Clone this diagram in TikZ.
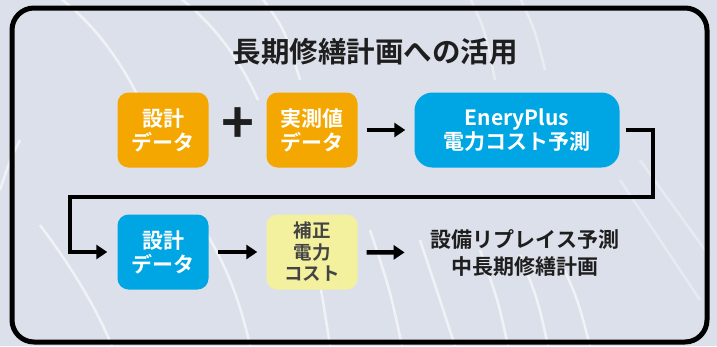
\documentclass[tikz,border=0pt]{standalone}
\usepackage{fontspec}
\setmainfont{Noto Sans CJK JP}[BoldFont={Noto Sans CJK JP Bold}]
\usetikzlibrary{arrows.meta}
\definecolor{bgc}{HTML}{DCE0EA}
\definecolor{orangebox}{HTML}{F4A700}
\definecolor{bluebox}{HTML}{00A6E3}
\definecolor{yellowbox}{HTML}{F3F09E}
\definecolor{darktext}{HTML}{1E1E1E}
\definecolor{graytext}{HTML}{444444}
\tikzset{
  streak/.style={white,opacity=0.6,line width=2.5pt},
  card/.style={rounded corners=11pt,minimum width=91pt,minimum height=75pt,inner sep=0pt,align=center,
    font=\fontsize{21}{24}\selectfont\bfseries,text=white},
  orangecard/.style={card,fill=orangebox},
  bluecard/.style={card,fill=bluebox},
  yellowcard/.style={card,fill=yellowbox,text=graytext,font=\fontsize{18.5}{21.5}\selectfont\bfseries},
  flow/.style={line width=4.5pt,-{Triangle[length=11pt,width=14pt]},shorten <=9pt,shorten >=9pt},
}
\begin{document}
\begin{tikzpicture}[x=1pt,y=-1pt]
\useasboundingbox (0,0) rectangle (717,346);
\fill[bgc] (0,0) rectangle (717,346);
% background streaks
\draw[streak] (60,-2) .. controls (95,25) and (120,60) .. (140,100);
\draw[streak] (180,-2) .. controls (215,25) and (240,60) .. (258,100);
\draw[streak] (262,-2) .. controls (285,30) .. (300,80);
\draw[streak] (20,140) .. controls (10,160) .. (0,190);
\draw[streak] (40,225) .. controls (70,265) and (95,305) .. (112,346);
\draw[streak] (195,215) .. controls (225,260) and (240,300) .. (250,346);
\draw[streak] (305,230) .. controls (320,280) .. (330,346);
\draw[streak] (370,230) .. controls (390,290) .. (402,346);
\draw[streak] (420,240) .. controls (440,300) .. (455,346);
\draw[streak] (480,250) .. controls (498,300) .. (508,346);
\draw[streak] (520,255) .. controls (538,300) .. (548,346);
\draw[streak] (560,260) .. controls (578,300) .. (590,346);
\draw[streak,opacity=0.35] (620,180) -- (700,300);
\draw[streak,opacity=0.35] (640,160) -- (705,250);
\draw[streak,opacity=0.4] (470,-2) .. controls (485,30) .. (495,80);
\draw[streak,opacity=0.4] (520,-2) .. controls (535,30) .. (545,70);
% frame
\draw[line width=5pt,rounded corners=22pt] (12,8) rectangle (707,342);
% title
\node[font=\fontsize{28.5}{32}\selectfont\bfseries,text=darktext] (title) at (375,52) {長期修繕計画への活用};
% row 1
\node[orangecard] (design1) at (163,130) {設計\\データ};
\node[font=\fontsize{56}{56}\selectfont\bfseries,text=darktext,inner sep=0pt] (plus) at (238,126) {+};
\node[orangecard] (measured) at (312,130) {実測値\\データ};
\node[bluecard,minimum width=205pt,rounded corners=18pt] (eplus) at (517,130) {EneryPlus\\電力コスト予測};
% row 2
\node[bluecard] (design2) at (163,252) {設計\\データ};
\node[yellowcard] (corrected) at (312,252) {補正\\電力\\コスト};
\node[font=\fontsize{21}{27}\selectfont\bfseries,text=darktext,align=center,inner sep=0pt] (result) at (525,253) {設備リプレイス予測\\中長期修繕計画};
% connectors
\coordinate (c1) at (653,130);
\coordinate (c2) at (653,197);
\coordinate (c3) at (70,197);
\coordinate (c4) at (70,252);
\draw[flow] (measured) -- (eplus);
\draw[line width=4.5pt,-{Triangle[length=11pt,width=14pt]},shorten <=6pt,shorten >=10pt]
  (eplus.east) -- (c1) -- (c2) -- (c3) -- (c4) -- (design2.west);
\draw[flow] (design2) -- (corrected);
\draw[flow,shorten >=26pt] (corrected) -- (result);
\end{tikzpicture}
\end{document}
